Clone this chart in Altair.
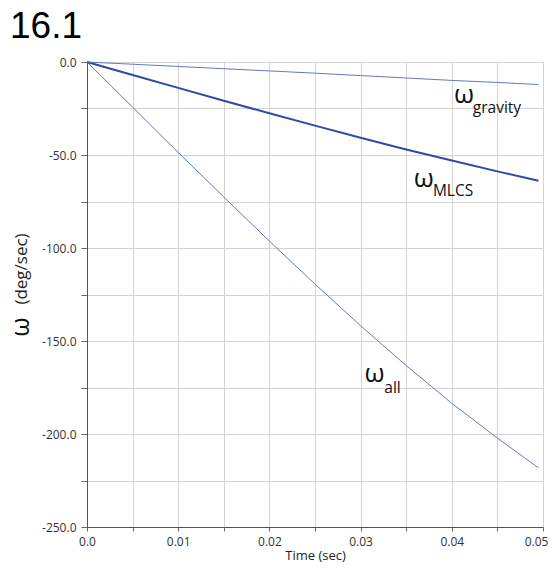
import altair as alt
import pandas as pd

# ---- data ----
time = [0.0, 0.005, 0.01, 0.015, 0.02, 0.025, 0.03, 0.035, 0.04, 0.045, 0.0495]
w_all = [0.0, -24.3, -48.6, -72.6, -96.3, -119.4, -141.8, -163.2, -183.5, -202.2, -218.2]
w_mlcs = [0.0, -7.0, -13.9, -20.8, -27.6, -34.2, -40.7, -47.0, -53.0, -58.8, -63.8]
w_gravity = [0.0, -1.2, -2.4, -3.6, -4.8, -6.0, -7.3, -8.6, -9.9, -11.0, -12.1]

series_colors = {"all": "#6479c4", "MLCS": "#2d4ba2", "gravity": "#6479c4"}
series_widths = {"all": 1.0, "MLCS": 2.0, "gravity": 1.0}

label_subs = ["gravity", "MLCS", "all"]
label_x = [0.04025, 0.03583, 0.03044]
label_y = [-22.1, -67.1, -172.2]
sub_x = [0.0423, 0.03793, 0.0326]
sub_y = [-27.5, -72.3, -177.7]

x_ticks = [round(i * 0.005, 3) for i in range(11)]
y_ticks = [-250 + 25 * i for i in range(11)]

x_scale = alt.Scale(domain=[0, 0.05], nice=False, zero=False)
y_scale = alt.Scale(domain=[-250, 0], nice=False, zero=False)

x_axis = alt.Axis(
    values=x_ticks,
    labelExpr="datum.value == 0 ? '0.0' : (round(datum.value * 1000) % 10 == 0 ? format(datum.value, '.2f') : '')",
    title="Time (sec)",
    titleFont="Open Sans", titleFontSize=13, titleFontWeight="normal", titleColor="#222",
    titleY=32, titleBaseline="alphabetic",
    labelFont="Open Sans", labelFontSize=12, labelColor="#333", labelPadding=5,
    labelOffset={"condition": {"test": "datum.value >= 0.0499", "value": -7}, "value": 0},
    tickSize=4, tickColor="#666", domainColor="#555",
    gridColor="#d4d4d4", grid=True, labelFlush=False,
)
y_axis = alt.Axis(
    values=y_ticks,
    labelExpr="datum.value % 50 == 0 ? ((datum.value < 0 ? '-' : '') + format(abs(datum.value), '.1f')) : ''",
    title="",
    labelFont="Open Sans", labelFontSize=12, labelColor="#333", labelPadding=5,
    tickSize=6, tickColor="#666", domainColor="#555",
    gridColor="#d4d4d4", grid=True, labelFlush=False,
)

X = alt.X("t:Q", scale=x_scale, axis=x_axis)
Y = alt.Y("w:Q", scale=y_scale, axis=y_axis)


def series_layer(name, vals):
    d = pd.DataFrame({"t": time, "w": vals})
    return alt.Chart(d).mark_line(
        color=series_colors[name], strokeWidth=series_widths[name]
    ).encode(x=X, y=Y)


l_all = series_layer("all", w_all)
l_mlcs = series_layer("MLCS", w_mlcs)
l_grav = series_layer("gravity", w_gravity)

omega_df = pd.DataFrame({"t": label_x, "w": label_y, "txt": ["ω"] * 3})
sub_df = pd.DataFrame({"t": sub_x, "w": sub_y, "txt": label_subs})

omegas = alt.Chart(omega_df).mark_text(
    align="left", baseline="alphabetic", font="Open Sans", fontSize=26, color="#111"
).encode(x=X, y=Y, text="txt:N")

subs = alt.Chart(sub_df).mark_text(
    align="left", baseline="alphabetic", font="Open Sans", fontSize=15.5, color="#111"
).encode(x=X, y=Y, text="txt:N")

title_mark = alt.Chart(pd.DataFrame({"s": ["16.1"]})).mark_text(
    align="left", baseline="alphabetic", font="Liberation Sans", fontSize=37, color="#000"
).encode(x=alt.value(-77), y=alt.value(-24), text="s:N")

ytitle_unit = alt.Chart(pd.DataFrame({"s": ["(deg/sec)"]})).mark_text(
    align="center", baseline="alphabetic", font="Open Sans", fontSize=17, color="#222", angle=270
).encode(x=alt.value(-60), y=alt.value(207), text="s:N")

ytitle_omega = alt.Chart(pd.DataFrame({"s": ["ω"]})).mark_text(
    align="center", baseline="alphabetic", font="Open Sans", fontSize=25, color="#111", angle=270
).encode(x=alt.value(-58), y=alt.value(265), text="s:N")

chart = alt.layer(l_all, l_mlcs, l_grav, omegas, subs, title_mark, ytitle_unit, ytitle_omega).properties(
    width=456, height=465,
    autosize=alt.AutoSizeParams(type="none"),
    padding={"left": 79, "top": 54, "right": 6, "bottom": 37},
).configure_view(strokeWidth=0)

chart.save("out.html", embed_options={"renderer": "svg", "actions": False})
